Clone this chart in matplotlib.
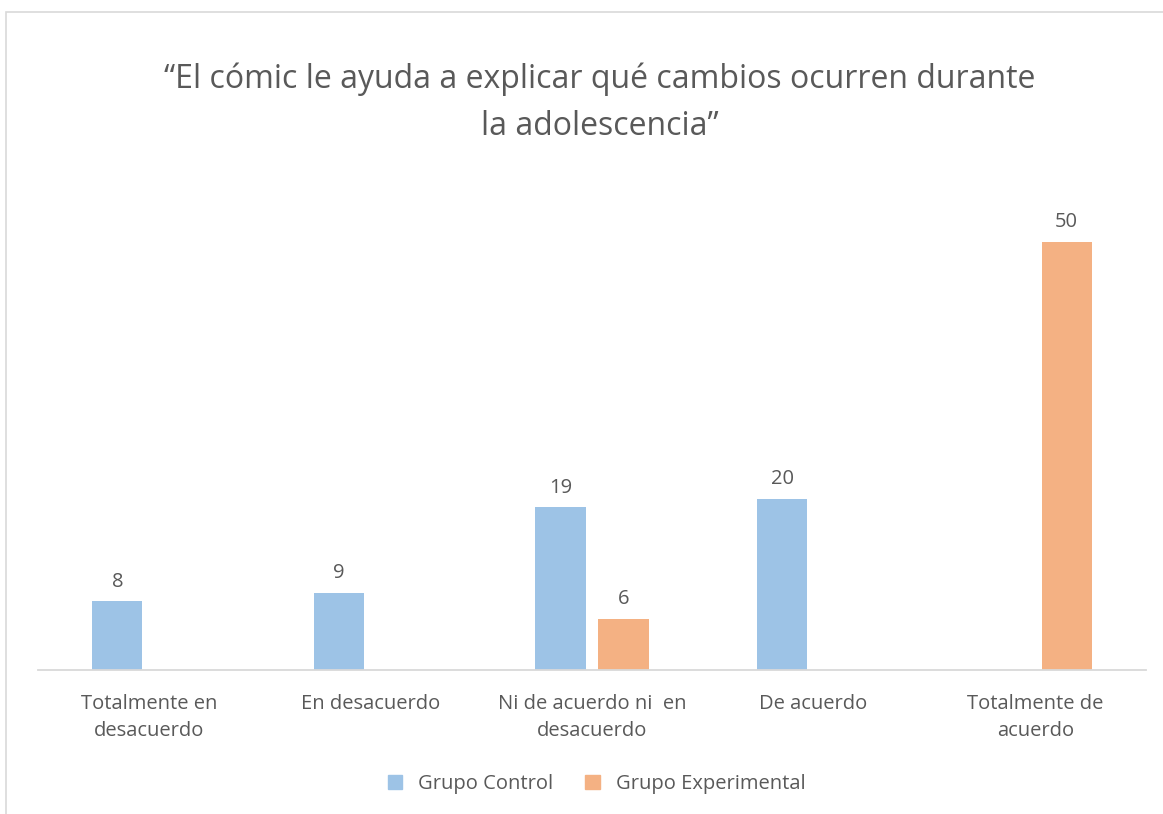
import numpy as np
import matplotlib
matplotlib.use("Agg")
import matplotlib.pyplot as plt
from matplotlib.patches import Rectangle, Patch

categories = ["Totalmente en\ndesacuerdo", "En desacuerdo", "Ni de acuerdo ni  en\ndesacuerdo",
              "De acuerdo", "Totalmente de\nacuerdo"]
control = [8, 9, 19, 20, 0]
experimental = [0, 0, 6, 0, 50]
series_names = ["Grupo Control", "Grupo Experimental"]
title = "\u201cEl cómic le ayuda a explicar qué cambios ocurren durante\nla adolescencia\u201d"

blue = "#9DC3E6"
orange = "#F4B183"
text_color = "#595959"

plt.rcParams['font.family'] = ['Open Sans', 'DejaVu Sans']

fig = plt.figure(figsize=(11.63, 8.14), dpi=100)
W, H = 1163, 814
ax = fig.add_axes([38 / W, (814 - 670) / H, (1146 - 38) / W, (670 - 156) / H])

# chart border
fig.patches.append(Rectangle((6 / W, -0.05), 1.2, 1 - 12 / H + 0.05, transform=fig.transFigure,
                             fill=False, edgecolor="#D9D9D9", linewidth=1.2))

x = np.arange(len(categories))
bw = 0.226
off = 0.142
for i in range(len(categories)):
    if control[i]:
        ax.bar(x[i] - off, control[i], bw, color=blue)
        ax.text(x[i] - off, control[i] + 1.1, str(control[i]), ha="center", va="bottom",
                fontsize=14.5, color=text_color)
    if experimental[i]:
        ax.bar(x[i] + off, experimental[i], bw, color=orange)
        ax.text(x[i] + off, experimental[i] + 1.1, str(experimental[i]), ha="center", va="bottom",
                fontsize=14.5, color=text_color)

ax.set_xlim(-0.5, len(categories) - 0.5)
ax.set_ylim(0, 60)
ax.set_yticks([])
ax.set_xticks(x)
ax.set_xticklabels(categories, fontsize=14.5, color=text_color, linespacing=1.5)
ax.tick_params(axis="x", length=0, pad=17)
for s in ["top", "right", "left"]:
    ax.spines[s].set_visible(False)
ax.spines["bottom"].set_color("#D9D9D9")
ax.spines["bottom"].set_linewidth(1.3)

fig.text(0.516, 1 - 103 / H, title, ha="center", va="center", fontsize=23, color=text_color,
         linespacing=1.55)

handles = [Patch(color=blue), Patch(color=orange)]
fig.legend(handles, series_names, loc="center", bbox_to_anchor=(0.513, 1 - 784 / H), ncol=2,
           frameon=False, fontsize=14.5, labelcolor=text_color, handlelength=0.7, handleheight=0.7,
           columnspacing=1.6, handletextpad=0.8)

fig.savefig("out.png", dpi=100, facecolor="white")
